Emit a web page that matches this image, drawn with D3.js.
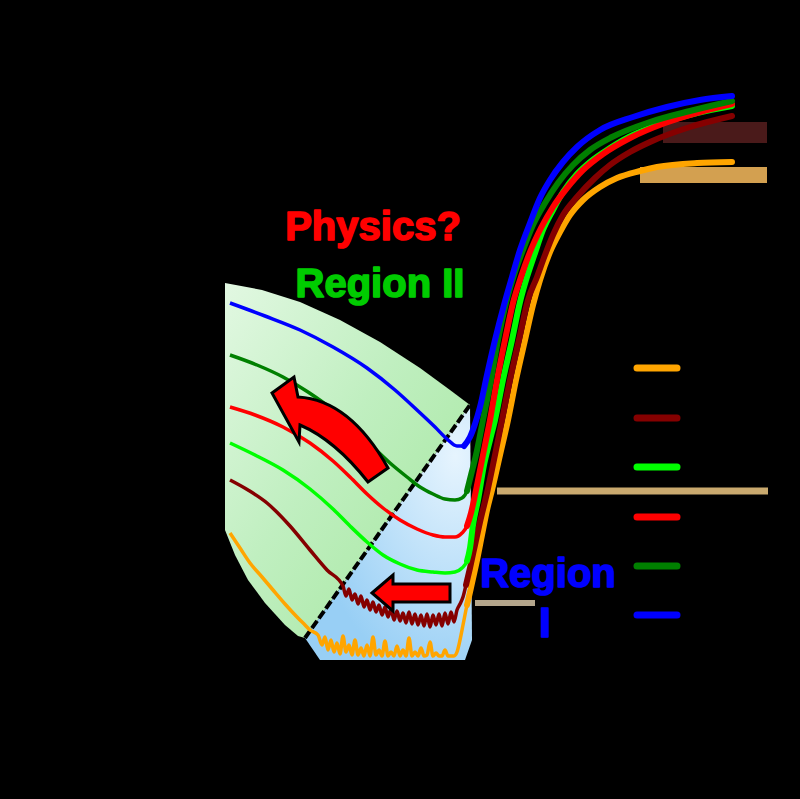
<!DOCTYPE html>
<html>
<head>
<meta charset="utf-8">
<script src="https://cdn.jsdelivr.net/npm/d3@7"></script>
<style>
html,body{margin:0;padding:0;background:#000;}
svg{display:block;}
</style>
</head>
<body>
<script>
// ---- Data (arbitrary units) ----
const seriesNames = ["orange", "darkred", "lime", "red", "darkgreen", "blue"];
const seriesColors = ["#ffa500", "#850000", "#00ff00", "#ff0000", "#008000", "#0000ff"];

const blueX = [10,45,80,113,147,175,197,215,227,237,244,250,255,260,267,275,284,292,300,310,320,330,343,357,380,413,447,480,512];
const blueY = [357,344,330,313,292,270,250,233,221,214,214,223,236,253,285,320,355,383,410,437,462,480,498,513,530,543,553,560,564];

const darkgreenX = [10,37,63,88,113,133,153,170,187,200,213,225,235,242,247,251,256,263,270,278,286,294,303,313,325,338,353,370,392,430,470,512];
const darkgreenY = [305,295,283,268,250,232,213,197,183,173,166,161,160,162,169,185,205,240,275,320,357,385,410,435,457,477,495,510,523,538,549,559];

const redX = [10,35,63,90,113,130,147,163,180,197,213,225,235,242,247,251,255,260,265,270,277,285,293,301,310,321,333,347,363,383,410,445,480,512];
const redY = [253,245,233,217,199,183,166,152,140,131,125,123,123,127,134,147,165,190,215,240,280,320,357,383,408,432,453,472,490,506,522,537,548,556];

const limeX = [10,35,63,90,113,130,147,163,180,197,213,225,235,242,247,250,253,258,264,270,275,283,292,300,307,315,323,333,343,357,370,390,403,437,477,512];
const limeY = [217,205,190,171,151,134,118,105,96,90,88,87,88,92,99,112,135,160,195,220,240,280,320,358,383,407,430,450,468,486,498,512,520,535,547,554];

const darkredX = [10,28,47,70,90,107,123,126,129,132,135,138,141,144,147,150,153,156,159,162,165,168,171,174,177,180,183,186,189,192,195,198,201,204,207,210,213,216,219,222,225,228,231,234,237,240,243,246,250,255,260,267,275,282,290,299,308,317,325,333,343,357,375,390,410,430,470,512];
const darkredY = [180,170,157,134,110,90,74,64,71,60,66,56,64,53,60,50,58,48,55,45,53,43,51,40,49,39,47,37,48,36,46,35,45,34,46,33,45,35,46,34,47,36,48,38,50,56,63,75,92,115,138,167,205,240,280,320,360,383,405,425,445,463,482,495,508,518,533,544];

const orangeX = [10,20,30,42,53,65,77,85,90,98,102,105,108,111,114,117,120,123,126,129,132,135,138,141,144,147,150,153,156,159,162,165,168,171,174,177,180,183,186,189,192,195,198,201,204,207,210,213,216,219,222,225,228,231,234,237,240,243,247,250,256,262,267,272,280,288,296,305,313,320,330,340,350,363,380,397,420,437,477,512];
const orangeY = [127,112,97,83,70,56,43,35,30,25,15,23,10,20,8,17,6,24,8,15,5,20,5,12,4,15,4,23,5,10,4,19,4,8,4,14,4,10,4,22,4,8,4,12,4,5,18,4,7,4,4,10,4,4,4,8,20,35,55,68,95,125,150,170,205,240,280,320,355,380,408,428,445,460,473,482,489,493,497,498];

const seriesX = [orangeX, darkredX, limeX, redX, darkgreenX, blueX];
const seriesY = [orangeY, darkredY, limeY, redY, darkgreenY, blueY];

// legend swatch vertical positions (same units)
const legendY = [292, 242, 193, 143, 94, 45];

// ---- Scales ----
const W = 800, H = 799;
const x = d3.scaleLinear().domain([0, 550]).range([220, 770]);
const y = d3.scaleLinear().domain([0, 600]).range([660, 60]);

const svg = d3.select("body").append("svg").attr("width", W).attr("height", H);
svg.append("rect").attr("width", W).attr("height", H).attr("fill", "#000");

const defs = svg.append("defs");
const gg = defs.append("linearGradient").attr("id", "gGreen").attr("x1", "0").attr("y1", "0").attr("x2", "1").attr("y2", "1");
gg.append("stop").attr("offset", "0").attr("stop-color", "#e2f8e2");
gg.append("stop").attr("offset", "0.45").attr("stop-color", "#c0efc0");
gg.append("stop").attr("offset", "1").attr("stop-color", "#a2e69c");
const gb = defs.append("radialGradient").attr("id", "gBlue").attr("cx", "0.9").attr("cy", "0.2").attr("r", "0.9");
gb.append("stop").attr("offset", "0").attr("stop-color", "#e6f4fe");
gb.append("stop").attr("offset", "1").attr("stop-color", "#98cff5");

const line = d3.line().x(d => x(d[0])).y(d => y(d[1]));
const smooth = d3.line().x(d => x(d[0])).y(d => y(d[1])).curve(d3.curveMonotoneX);

// Region II shading
const greenRegion = [[5,377],[42,370],[80,358],[120,340],[160,318],[200,292],[230,270],[250,255],[85,22],[78,24],[65,35],[45,57],[28,80],[15,105],[5,130]];
svg.append("path").attr("d", d3.line().x(d => x(d[0])).y(d => y(d[1])).curve(d3.curveLinearClosed)(greenRegion)).attr("fill", "url(#gGreen)");
// Region I shading
const blueRegion = [[250,255],[252,20],[245,0],[100,0],[85,22]];
svg.append("path").attr("d", line(blueRegion) + "Z").attr("fill", "url(#gBlue)");

// dashed boundary
svg.append("path").attr("d", line([[85,22],[250,255]]))
  .attr("stroke", "#000").attr("stroke-width", 4).attr("stroke-dasharray", "9,3").attr("fill", "none");

// tan decorative bands
svg.append("line").attr("x1", x(277)).attr("x2", x(548)).attr("y1", y(169)).attr("y2", y(169))
  .attr("stroke", "#c9a96e").attr("stroke-width", 7);
svg.append("line").attr("x1", x(255)).attr("x2", x(315)).attr("y1", y(57)).attr("y2", y(57))
  .attr("stroke", "#b4a68c").attr("stroke-width", 6);
svg.append("rect").attr("x", x(443)).attr("y", y(538)).attr("width", x(547) - x(443)).attr("height", y(517) - y(538))
  .attr("fill", "#4a1a1a");
svg.append("rect").attr("x", x(420)).attr("y", y(493)).attr("width", x(547) - x(420)).attr("height", y(477) - y(493))
  .attr("fill", "#d3a050");

// curves
seriesNames.forEach((name, i) => {
  const pts = seriesX[i].map((v, j) => [v, seriesY[i][j]]);
  svg.append("path").attr("d", smooth(pts)).attr("fill", "none")
    .attr("stroke", seriesColors[i]).attr("stroke-width", 3.5).attr("stroke-linejoin", "round");
  const rise = pts.filter(p => p[0] >= 244);
  svg.append("path").attr("d", smooth(rise)).attr("fill", "none")
    .attr("stroke", seriesColors[i]).attr("stroke-width", 6).attr("stroke-linecap", "round");
});

// arrows
const cArrow = `M${x(52)},${y(267)} L${x(74)},${y(283)} L${x(78)},${y(263)} Q${x(130)},${y(260)} ${x(168)},${y(192)} L${x(148)},${y(178)} Q${x(115)},${y(220)} ${x(80)},${y(235)} L${x(79)},${y(218)} Z`;
svg.append("path").attr("d", cArrow).attr("fill", "#ff0000").attr("stroke", "#000").attr("stroke-width", 3).attr("stroke-linejoin", "miter");
const sArrow = [[152,67],[173,85],[173,76],[230,76],[230,58],[173,58],[173,49]];
svg.append("path").attr("d", line(sArrow) + "Z").attr("fill", "#ff0000").attr("stroke", "#000").attr("stroke-width", 3);

// legend swatches
seriesNames.forEach((name, i) => {
  svg.append("line").attr("x1", x(417)).attr("x2", x(457)).attr("y1", y(legendY[i])).attr("y2", y(legendY[i]))
    .attr("stroke", seriesColors[i]).attr("stroke-width", 7).attr("stroke-linecap", "round");
});

// labels
const font = "'Liberation Sans', Arial, sans-serif";
function label(t, cx, by, color, size) {
  svg.append("text").attr("x", x(cx)).attr("y", y(by)).attr("text-anchor", "middle")
    .attr("font-family", font).attr("font-weight", "bold").attr("font-size", size)
    .attr("fill", color).attr("stroke", color).attr("stroke-width", 1.6).attr("stroke-linejoin", "round").text(t);
}
label("Physics?", 153, 420, "#ff0000", 40);
label("Region II", 160, 363, "#00cc00", 40);
label("Region", 328, 73, "#0000ff", 40);
label("I", 325, 23, "#0000ff", 43);
</script>
</body>
</html>
